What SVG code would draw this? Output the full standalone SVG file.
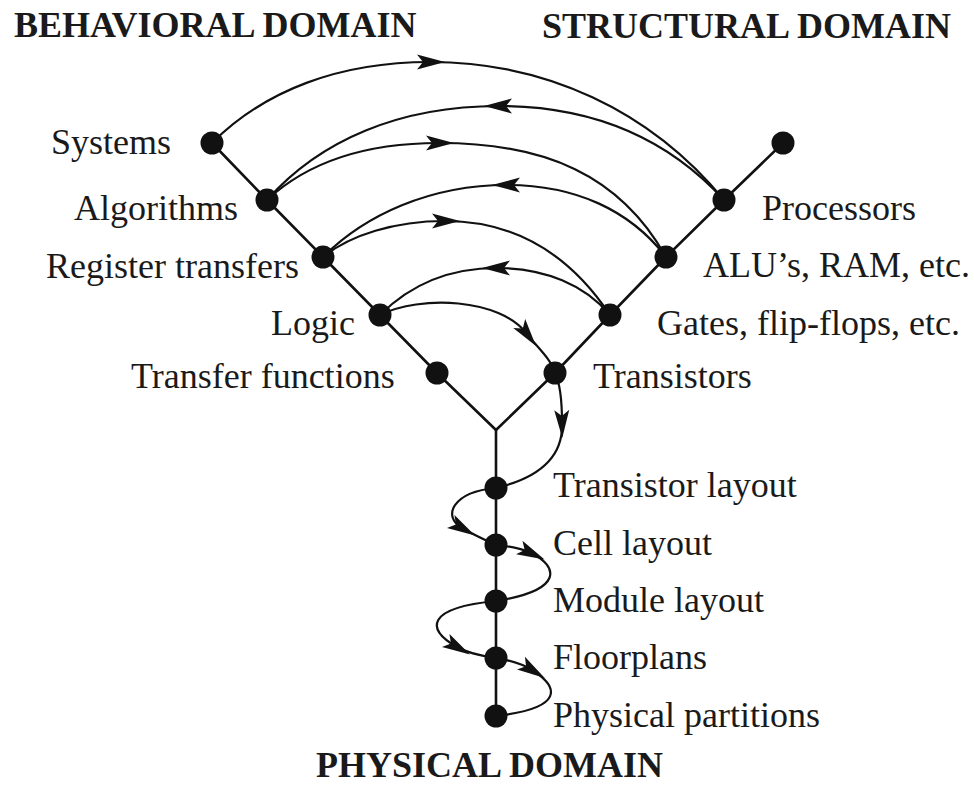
<svg xmlns="http://www.w3.org/2000/svg" width="974" height="794" viewBox="0 0 974 794">
  <style>
    .title { font-family: "Liberation Serif", "Times New Roman", serif; font-weight: bold; font-size: 36px; fill: #1a1a1a; }
    .label { font-family: "Liberation Serif", "Times New Roman", serif; font-size: 36px; fill: #1a1a1a; }
    .axis { fill: none; stroke: #111; stroke-width: 2.6; stroke-linejoin: round; }
    .flow { fill: none; stroke: #111; stroke-width: 2.2; marker-mid: url(#arrow); }
    .dot { fill: #111; }
  </style>
  <defs>
    <marker id="arrow" viewBox="-16 -9 32 18" markerWidth="32" markerHeight="18" refX="0" refY="0" orient="auto" markerUnits="userSpaceOnUse">
      <path d="M15,0 L-13,-7.5 L-7,0 L-13,7.5 Z" fill="#111"/>
    </marker>
  </defs>
  <rect width="974" height="794" fill="#fff"/>

  <!-- domain headings -->
  <text class="title" x="14" y="37">BEHAVIORAL DOMAIN</text>
  <text class="title" x="542" y="38">STRUCTURAL DOMAIN</text>
  <text class="title" x="316" y="777">PHYSICAL DOMAIN</text>

  <!-- the three axes of the Y -->
  <g id="axes">
    <polyline class="axis" points="212,143 267,200 323,257 380,315 437,373 496,430"/>
    <polyline class="axis" points="783,143 724,200 666,257 610,315 555,373 496,430"/>
    <line class="axis" x1="496" y1="430" x2="496" y2="716"/>
  </g>

  <!-- design-flow connectors, each split at its arrowhead -->
  <g id="connectors">
    <path class="flow" d="M212,143 C265,90 340,62 430,62 C545,62 650,110 724,200"/>
    <path class="flow" d="M724,200 C660,130 580,106 499,106 C400,106 320,140 267,200"/>
    <path class="flow" d="M267,200 C310,160 370,143 439,143 C545,143 620,175 666,257"/>
    <path class="flow" d="M666,257 C630,210 575,185 507,185 C430,185 365,215 323,257"/>
    <path class="flow" d="M323,257 C350,235 395,221 445,221 C515,221 570,255 610,315"/>
    <path class="flow" d="M610,315 C585,285 545,268 497,268 C450,268 410,285 380,315"/>
    <path class="flow" d="M380,315 C420,295 500,298 527,334 C536,346 552,360 555,373"/>
    <path class="flow" d="M555,373 C561,385 562,405 562,423 C563,448 550,475 496,488"/>
    <path class="flow" d="M496,488 C452,492 442,516.5 462,528 C470.7,533 485,540 496,545"/>
    <path class="flow" d="M496,545 C508,546 519,547.4 531,553 C558,566 565,590 496,601"/>
    <path class="flow" d="M496,601 C425,608 426,629.2 457,647 C467.4,653 482,656 496,658"/>
    <path class="flow" d="M496,658 C508,660 520,662.6 532,670 C559,687 565,708 496,716"/>
  </g>

  <!-- behavioral domain -->
  <g id="systems"><circle class="dot" cx="212" cy="143" r="11.5"/><text class="label" x="51" y="154">Systems</text></g>
  <g id="algorithms"><circle class="dot" cx="267" cy="200" r="11.5"/><text class="label" x="74" y="220">Algorithms</text></g>
  <g id="register-transfers"><circle class="dot" cx="323" cy="257" r="11.5"/><text class="label" x="46" y="278">Register transfers</text></g>
  <g id="logic"><circle class="dot" cx="380" cy="315" r="11.5"/><text class="label" x="271" y="335">Logic</text></g>
  <g id="transfer-functions"><circle class="dot" cx="437" cy="373" r="11.5"/><text class="label" x="131" y="388">Transfer functions</text></g>

  <!-- structural domain -->
  <g id="structural-top"><circle class="dot" cx="783" cy="143" r="11.5"/></g>
  <g id="processors"><circle class="dot" cx="724" cy="200" r="11.5"/><text class="label" x="762" y="220">Processors</text></g>
  <g id="alus"><circle class="dot" cx="666" cy="257" r="11.5"/><text class="label" x="703" y="277">ALU’s, RAM, etc.</text></g>
  <g id="gates"><circle class="dot" cx="610" cy="315" r="11.5"/><text class="label" x="657" y="335">Gates, flip-flops, etc.</text></g>
  <g id="transistors"><circle class="dot" cx="555" cy="373" r="11.5"/><text class="label" x="593" y="388">Transistors</text></g>

  <!-- physical domain -->
  <g id="transistor-layout"><circle class="dot" cx="496" cy="488" r="11.5"/><text class="label" x="553" y="497">Transistor layout</text></g>
  <g id="cell-layout"><circle class="dot" cx="496" cy="545" r="11.5"/><text class="label" x="553" y="555">Cell layout</text></g>
  <g id="module-layout"><circle class="dot" cx="496" cy="601" r="11.5"/><text class="label" x="553" y="612">Module layout</text></g>
  <g id="floorplans"><circle class="dot" cx="496" cy="658" r="11.5"/><text class="label" x="553" y="669">Floorplans</text></g>
  <g id="physical-partitions"><circle class="dot" cx="496" cy="716" r="11.5"/><text class="label" x="553" y="727">Physical partitions</text></g>
</svg>
